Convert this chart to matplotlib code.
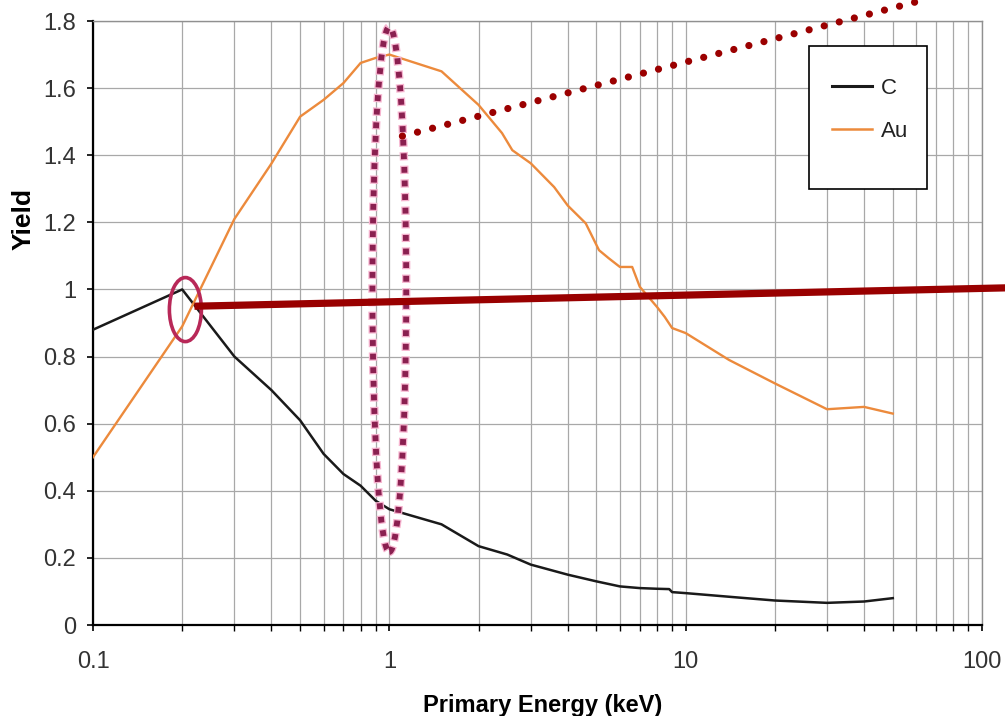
import matplotlib
matplotlib.use("Agg")
import matplotlib.pyplot as plt
import numpy as np
from matplotlib.patches import Ellipse, Rectangle
from matplotlib.lines import Line2D
from matplotlib.ticker import LogLocator, NullFormatter, FuncFormatter

plt.rcParams['font.family'] = ['Liberation Sans', 'DejaVu Sans']
plt.rcParams['lines.scale_dashes'] = False

# data
energy_c = [0.1, 0.2, 0.3, 0.4, 0.5, 0.6, 0.7, 0.8, 0.9, 1.0, 1.5, 2.0, 2.5, 3.0,
            4.0, 5.0, 6.0, 7.0, 8.0, 8.8, 9.0, 10, 15, 20, 30, 40, 50]
yield_c = [0.88, 1.00, 0.80, 0.70, 0.61, 0.51, 0.45, 0.415, 0.37, 0.345, 0.30, 0.235,
           0.21, 0.18, 0.15, 0.13, 0.115, 0.11, 0.108, 0.107, 0.098, 0.095, 0.082,
           0.073, 0.066, 0.070, 0.080]

energy_au = [0.1, 0.2, 0.3, 0.4, 0.5, 0.6, 0.7, 0.8, 0.9, 1.0, 1.5, 2.0, 2.4, 2.6, 3.0,
             3.6, 4.0, 4.6, 5.1, 5.5, 6.0, 6.6, 7.0, 8.0, 8.5, 9.0, 10, 14, 20, 30,
             40, 50]
yield_au = [0.50, 0.89, 1.21, 1.375, 1.515, 1.565, 1.615, 1.675, 1.69, 1.70, 1.65, 1.55,
            1.466, 1.415, 1.376, 1.305, 1.25, 1.197, 1.117, 1.093, 1.067, 1.067, 1.008,
            0.948, 0.918, 0.885, 0.87, 0.79, 0.72, 0.643, 0.65, 0.63]

series_names = ['C', 'Au']
series_colors = ['#1a1a1a', '#ec8a3c']
x_ticks = [0.1, 1, 10, 100]
y_ticks = [0, 0.2, 0.4, 0.6, 0.8, 1.0, 1.2, 1.4, 1.6, 1.8]

fig = plt.figure(figsize=(10.05, 7.16), dpi=100)
ax = fig.add_axes([93 / 1005, 91 / 716, 889 / 1005, 604 / 716])

ax.plot(energy_c, yield_c, color=series_colors[0], lw=1.8, zorder=3)
ax.plot(energy_au, yield_au, color=series_colors[1], lw=1.7, zorder=3)

ax.set_xscale('log')
ax.set_xlim(0.1, 100)
ax.set_ylim(0, 1.8)
ax.set_xticks(x_ticks)
ax.xaxis.set_major_formatter(FuncFormatter(lambda v, p: '%g' % v))
ax.xaxis.set_minor_locator(LogLocator(base=10, subs=np.arange(2, 10)))
ax.xaxis.set_minor_formatter(NullFormatter())
ax.set_yticks(y_ticks)
ax.yaxis.set_major_formatter(FuncFormatter(lambda v, p: '%g' % v))

grid_kw = dict(color='#a8a8a8', lw=0.9)
ax.grid(True, which='both', axis='x', **grid_kw)
ax.grid(True, which='major', axis='y', **grid_kw)
ax.set_axisbelow(True)

for side in ['top', 'right']:
    ax.spines[side].set_color('#909090')
    ax.spines[side].set_linewidth(1.0)
for side in ['left', 'bottom']:
    ax.spines[side].set_color('black')
    ax.spines[side].set_linewidth(1.6)

ax.tick_params(axis='y', which='major', direction='out', length=4, width=1.2,
               pad=8, labelsize=17, labelcolor='#333333')
ax.tick_params(axis='x', which='major', direction='out', length=4, width=1.2,
               pad=15, labelsize=17, labelcolor='#333333')
ax.tick_params(axis='x', which='minor', direction='out', length=4, width=1.0)

ax.set_xlabel('Primary Energy (keV)', fontsize=17, fontweight='bold')
ax.set_ylabel('Yield', fontsize=19, fontweight='bold')
ax.xaxis.set_label_coords(0.506, -0.114)
ax.yaxis.set_label_coords(-0.0645, 0.672)

# legend with its tall box
ax.add_patch(Rectangle((0.805, 0.722), 0.133, 0.237, transform=ax.transAxes,
                       facecolor='white', edgecolor='black', lw=1.2, zorder=5))
handles = [Line2D([], [], color=series_colors[0], lw=2.2),
           Line2D([], [], color=series_colors[1], lw=1.8)]
leg = ax.legend(handles, series_names, loc='upper left', bbox_to_anchor=(0.831, 0.906),
                frameon=False, fontsize=16, handlelength=1.8, handletextpad=0.4,
                labelspacing=1.0, borderpad=0, borderaxespad=0)
leg.set_zorder(6)
for t in leg.get_texts():
    t.set_color('#222222')

# highlight overlays
to_axes = ax.transScale + ax.transLimits
cx, cy = to_axes.transform((0.205, 0.94))
ax.add_patch(Ellipse((cx, cy), 0.036, 0.106, transform=ax.transAxes, fill=False,
                     edgecolor='#b82858', lw=2.6, zorder=7, clip_on=False))

cx, cy = to_axes.transform((1.0, 1.0))
ax.add_patch(Ellipse((cx, cy), 0.038, 0.869, transform=ax.transAxes, fill=False,
                     edgecolor='#f6b4cf', lw=6.0, linestyle=(0.9, (6.0, 3.8)),
                     zorder=7, clip_on=False))
ax.add_patch(Ellipse((cx, cy), 0.038, 0.869, transform=ax.transAxes, fill=False,
                     edgecolor='#8a2050', lw=4.2, linestyle=(0, (4.2, 5.6)),
                     zorder=8, clip_on=False))

ax.plot([0.22, 124], [0.95, 1.005], color='#990000', lw=5.2, solid_capstyle='butt',
        zorder=9, clip_on=False)
ax.plot([1.107, 124], [1.457, 1.93], color='#9b0000', lw=5.2,
        linestyle=(0, (0.01, 11.2)), dash_capstyle='round', zorder=9, clip_on=False)

fig.savefig('out.png', dpi=100)
